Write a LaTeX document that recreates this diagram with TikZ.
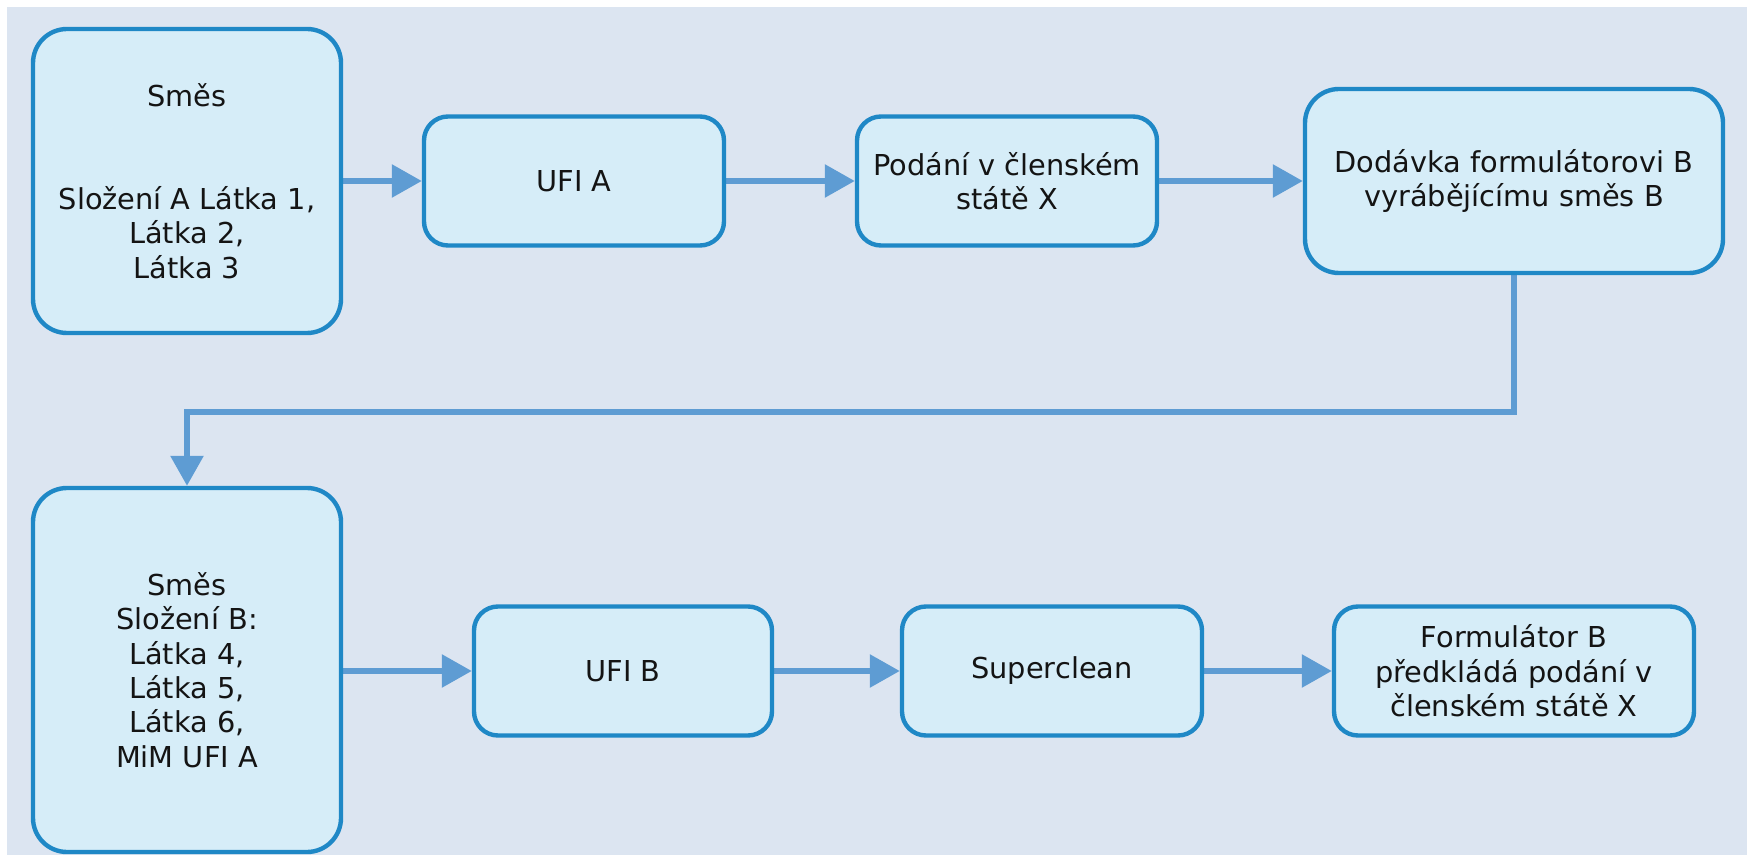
\documentclass[tikz,border=0pt]{standalone}
\usepackage{fontspec}
\setmainfont{DejaVu Sans}
\usetikzlibrary{backgrounds,arrows.meta}
\definecolor{xpage}{RGB}{220,229,241}
\definecolor{xfill}{RGB}{214,237,248}
\definecolor{xedge}{RGB}{31,136,198}
\definecolor{xflow}{RGB}{94,156,211}
\definecolor{xtext}{RGB}{20,20,20}
\tikzset{
	stage/.style={draw=xedge, fill=xfill, rectangle, rounded corners=12pt, line width=2.2pt,
		align=center, inner sep=0pt, text=xtext, font=\fontsize{14.4pt}{17.2pt}\selectfont},
	flow/.style={draw=xflow, line width=2.9pt, -{Triangle[length=15pt,width=16pt]}},
}

\begin{document}
\begin{tikzpicture}[x=0.5pt, y=-0.5pt]
			\useasboundingbox (0,0) rectangle (1750,855);
			\def \up {181}
			\def \dn {671}
			\begin{scope}[on background layer]
				\fill[xpage] (7,7) rectangle (1747,855);
			\end{scope}
			% first row
			\node[stage, rounded corners=17pt, minimum width=154pt, minimum height=152pt] at (187, \up) (mixA) {Směs\\[2\baselineskip]Složení A Látka 1,\\Látka 2,\\Látka 3};
			\node[stage, minimum width=150pt, minimum height=64.5pt] at (574, \up) (ufiA) {UFI A};
			\node[stage, minimum width=150pt, minimum height=64.5pt] at (1007, \up) (podani) {Podání v členském\\státě X};
			\node[stage, rounded corners=17pt, minimum width=209pt, minimum height=92pt] at (1514, \up) (dodavka) {Dodávka formulátorovi B\\vyrábějícímu směs B};
			\begin{scope}[on background layer]
				\draw[flow] (mixA) -- (ufiA);
				\draw[flow] (ufiA) -- (podani);
				\draw[flow] (podani) -- (dodavka);
			\end{scope}
			% second row
			\node[stage, rounded corners=17pt, minimum width=154pt, minimum height=182pt] at (187, 670) (mixB) {Směs\\Složení B:\\Látka 4,\\Látka 5,\\Látka 6,\\MiM UFI A};
			\node[stage, minimum width=149pt, minimum height=64.5pt] at (623, \dn) (ufiB) {UFI B};
			\node[stage, minimum width=150pt, minimum height=64.5pt] at (1052, \dn) (clean) {Superclean};
			\node[stage, minimum width=180pt, minimum height=64.5pt] at (1514, \dn) (formB) {Formulátor B\\předkládá podání v\\členském státě X};
			\coordinate (bend) at (1514, 412);
			\begin{scope}[on background layer]
				\draw[flow] (dodavka.south) -- (bend) -| (mixB.north);
				\draw[flow] (mixB.east |- ufiB) -- (ufiB);
				\draw[flow] (ufiB) -- (clean);
				\draw[flow] (clean) -- (formB);
			\end{scope}
\end{tikzpicture}
\end{document}
